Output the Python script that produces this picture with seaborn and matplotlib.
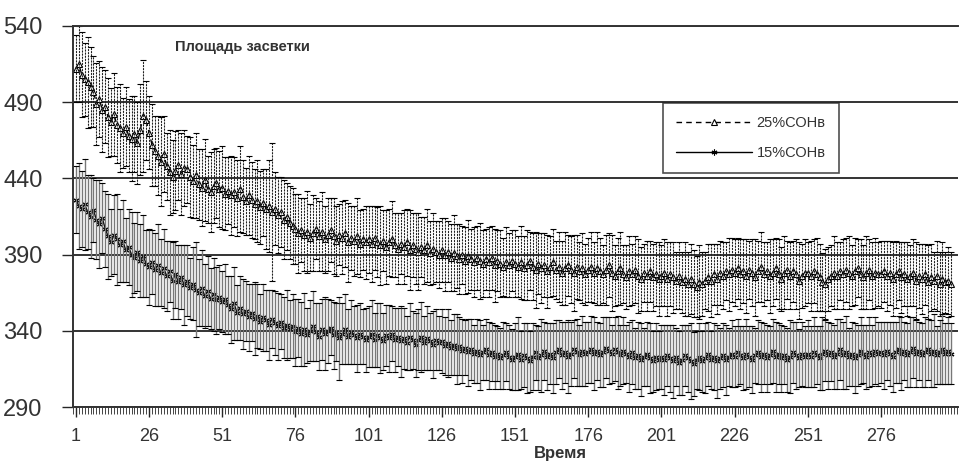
import numpy as np
import pandas as pd
import matplotlib
matplotlib.use("Agg")
import matplotlib.pyplot as plt
import seaborn as sns
from matplotlib.ticker import FixedLocator, MultipleLocator

# ---------------- data ----------------
series_names = ["25%СОНв", "15%СОНв"]
time_labels = [1, 26, 51, 76, 101, 126, 151, 176, 201, 226, 251, 276]
y_ticks = [290, 340, 390, 440, 490, 540]

mean_25 = [
    512, 515, 508, 505, 503, 500, 497, 489, 492, 485, 487, 480, 477, 482, 475, 473, 470, 474, 468, 466, 469, 463, 472, 481, 478,
    470, 462, 458, 455, 451, 456, 448, 444, 441, 445, 449, 443, 447, 446, 441, 438, 442, 436, 434, 439, 433, 431, 435, 437, 433,
    434, 430, 432, 429, 431, 427, 433, 428, 425, 429, 426, 423, 425, 421, 424, 420, 422, 418, 420, 416, 418, 413, 415, 411, 409,
    407, 404, 406, 403, 405, 401, 404, 407, 402, 405, 400, 403, 406, 402, 399, 403, 401, 404, 398, 401, 399, 402, 397, 400, 398,
    400, 397, 401, 398, 396, 399, 395, 398, 400, 396, 394, 397, 395, 398, 393, 396, 394, 392, 395, 393, 396, 391, 394, 392, 390,
    393, 390, 392, 388, 391, 389, 387, 390, 386, 389, 387, 385, 388, 386, 384, 387, 385, 388, 383, 386, 384, 382, 385, 383, 386,
    384, 382, 385, 381, 383, 386, 382, 380, 384, 381, 383, 379, 382, 385, 380, 382, 378, 381, 383, 380, 378, 382, 379, 381, 377,
    380, 382, 378, 381, 379, 377, 380, 383, 378, 376, 379, 381, 377, 375, 379, 377, 380, 376, 374, 378, 376, 379, 375, 377, 374,
    376, 378, 374, 377, 375, 373, 376, 372, 374, 371, 374, 371, 369, 372, 371, 373, 375, 373, 377, 374, 378, 376, 379, 377, 380,
    378, 381, 377, 379, 376, 380, 378, 375, 379, 382, 377, 379, 376, 378, 381, 377, 374, 378, 380, 376, 379, 377, 373, 376, 378,
    378, 376, 379, 377, 375, 372, 371, 374, 376, 378, 376, 379, 377, 380, 378, 376, 379, 381, 377, 375, 378, 380, 376, 378, 377,
    377, 379, 376, 378, 374, 377, 379, 375, 377, 374, 376, 378, 373, 376, 374, 377, 372, 375, 373, 376, 371, 374, 372, 373, 371,
]
err_25 = [
    22, 25, 28, 24, 30, 26, 23, 27, 25, 28, 24, 26, 22, 27, 25, 29, 23, 26, 24, 28, 25, 27, 30, 37, 26,
    24, 27, 23, 26, 29, 25, 22, 28, 24, 26, 23, 27, 25, 22, 26, 24, 28, 23, 25, 27, 22, 26, 24, 23, 25,
    27, 24, 22, 26, 23, 25, 28, 24, 22, 26, 25, 23, 27, 24, 22, 26, 30, 45, 24, 25, 23, 26, 22, 24, 25,
    23, 26, 21, 24, 27, 22, 25, 20, 23, 26, 22, 24, 21, 25, 23, 20, 24, 22, 26, 21, 23, 25, 22, 20, 24,
    22, 25, 21, 23, 26, 20, 24, 22, 25, 21, 23, 20, 24, 22, 26, 21, 23, 25, 20, 22, 24, 21, 23, 20, 22,
    21, 24, 20, 22, 25, 21, 23, 19, 22, 24, 20, 23, 21, 25, 22, 20, 23, 21, 24, 20, 22, 19, 23, 21, 20,
    22, 20, 24, 21, 23, 19, 22, 25, 20, 23, 21, 24, 20, 22, 19, 23, 21, 24, 20, 22, 25, 21, 19, 23, 20,
    21, 23, 20, 24, 22, 19, 23, 21, 25, 20, 22, 24, 19, 21, 23, 20, 22, 24, 21, 19, 23, 20, 22, 21, 24,
    20, 22, 24, 21, 23, 19, 22, 20, 24, 21, 23, 22, 20, 24, 21, 19, 22, 24, 20, 23, 21, 22, 19, 24, 21,
    22, 20, 23, 21, 24, 19, 22, 25, 20, 23, 21, 19, 24, 22, 20, 23, 21, 24, 19, 22, 20, 23, 25, 21, 22,
    20, 23, 21, 24, 22, 19, 23, 21, 20, 24, 22, 19, 23, 21, 24, 20, 22, 19, 23, 21, 24, 20, 22, 23, 21,
    22, 20, 23, 21, 24, 22, 19, 23, 21, 24, 20, 22, 25, 21, 23, 20, 24, 22, 19, 23, 21, 24, 20, 22, 21,
]
mean_15 = [
    426, 422, 420, 423, 418, 415, 419, 413, 410, 414, 407, 402, 398, 403, 400, 396, 399, 393, 395, 390, 388, 392, 386, 389, 384,
    382, 385, 380, 383, 378, 381, 376, 379, 373, 377, 372, 375, 370, 373, 368, 371, 367, 365, 368, 363, 366, 361, 364, 360, 362,
    359, 361, 357, 354, 358, 352, 355, 351, 353, 349, 352, 348, 350, 346, 349, 347, 344, 348, 345, 343, 346, 342, 344, 341, 343,
    339, 342, 338, 341, 337, 340, 343, 339, 336, 341, 338, 340, 342, 337, 339, 335, 338, 341, 336, 339, 337, 335, 338, 336, 334,
    336, 338, 334, 337, 335, 333, 337, 335, 338, 334, 336, 333, 335, 332, 336, 334, 331, 334, 336, 332, 335, 333, 331, 334, 332,
    333, 330, 332, 329, 331, 328, 330, 327, 329, 326, 328, 325, 327, 324, 326, 328, 324, 326, 323, 325, 322, 324, 326, 323, 321,
    323, 325, 321, 324, 322, 320, 323, 326, 322, 324, 327, 323, 325, 322, 326, 328, 324, 326, 323, 325, 328, 326, 324, 327, 325,
    326, 328, 325, 327, 324, 326, 329, 327, 325, 328, 326, 324, 327, 325, 323, 326, 322, 324, 321, 323, 325, 322, 320, 323, 321,
    323, 321, 324, 322, 320, 323, 319, 321, 324, 322, 320, 318, 321, 323, 320, 322, 325, 321, 323, 320, 322, 324, 321, 323, 325,
    323, 326, 324, 322, 325, 323, 321, 324, 326, 323, 325, 322, 324, 327, 323, 325, 322, 324, 321, 323, 326, 324, 322, 325, 323,
    325, 323, 326, 324, 322, 325, 327, 324, 326, 323, 325, 328, 324, 326, 323, 325, 322, 324, 327, 325, 323, 326, 324, 327, 325,
    326, 324, 327, 325, 323, 326, 328, 325, 327, 324, 326, 329, 325, 327, 324, 326, 328, 325, 327, 324, 326, 328, 325, 327, 325,
]
err_15 = [
    22, 28, 25, 30, 24, 27, 21, 26, 29, 23, 25, 28, 22, 26, 30, 24, 27, 21, 25, 28, 23, 26, 24, 27, 22,
    25, 21, 24, 27, 22, 26, 23, 20, 25, 22, 24, 21, 26, 23, 20, 24, 31, 22, 25, 21, 23, 20, 24, 22, 21,
    20, 23, 19, 22, 24, 18, 21, 23, 20, 22, 19, 24, 21, 18, 22, 20, 23, 19, 21, 22, 18, 20, 23, 19, 21,
    22, 19, 21, 24, 18, 20, 23, 19, 22, 20, 24, 21, 18, 22, 19, 27, 20, 23, 18, 21, 19, 22, 20, 18, 21,
    20, 22, 18, 21, 23, 19, 20, 22, 18, 21, 19, 23, 20, 18, 22, 19, 21, 20, 23, 18, 21, 19, 22, 20, 18,
    21, 19, 22, 18, 20, 23, 19, 21, 18, 22, 20, 19, 21, 23, 18, 20, 22, 19, 21, 18, 20, 22, 19, 21, 20,
    22, 24, 19, 21, 23, 20, 22, 18, 21, 24, 19, 22, 20, 23, 21, 19, 22, 20, 24, 21, 19, 22, 20, 23, 21,
    20, 22, 24, 19, 21, 23, 20, 22, 19, 21, 24, 20, 22, 19, 23, 21, 20, 22, 24, 19, 21, 23, 20, 22, 19,
    21, 23, 20, 22, 24, 19, 21, 23, 20, 22, 25, 21, 19, 22, 20, 23, 21, 19, 22, 24, 20, 21, 23, 19, 22,
    20, 22, 19, 21, 23, 20, 22, 18, 21, 23, 20, 22, 19, 21, 23, 20, 22, 19, 21, 24, 20, 22, 19, 21, 20,
    22, 20, 23, 19, 21, 24, 20, 22, 19, 21, 23, 20, 22, 24, 19, 21, 23, 20, 22, 19, 21, 23, 20, 22, 21,
    20, 22, 19, 21, 23, 20, 22, 24, 19, 21, 23, 20, 22, 19, 21, 23, 20, 22, 24, 19, 21, 23, 20, 22, 20,
]

# ---------------- long-form table: low / mean / high per time point ----------------
rows = []
for name, means, errs in [(series_names[0], mean_25, err_25), (series_names[1], mean_15, err_15)]:
    for i, (m, e) in enumerate(zip(means, errs)):
        t = i + 1
        rows.append((t, m - e, name))
        rows.append((t, m, name))
        rows.append((t, m + e, name))
df = pd.DataFrame(rows, columns=["Время", "value", "series"])

# ---------------- style ----------------
sns.set_theme(style="white")
plt.rcParams["font.family"] = ["Liberation Sans", "DejaVu Sans"]

fig = plt.figure(figsize=(9.59, 4.66), dpi=100)
ax = fig.add_axes([73 / 959, 1 - 407 / 466, (958 - 73) / 959, (407 - 26) / 466])

sns.lineplot(
    data=df, x="Время", y="value", hue="series", style="series",
    hue_order=series_names, style_order=series_names,
    palette={series_names[0]: "black", series_names[1]: "black"},
    dashes={series_names[0]: (4, 3), series_names[1]: ""},
    markers={series_names[0]: "^", series_names[1]: "X"},
    estimator="median",
    errorbar=lambda v: (v.min(), v.max()),
    err_style="bars",
    err_kws=dict(capsize=2.5, elinewidth=0.8, capthick=0.8),
    linewidth=1.0, markersize=4.2,
    markeredgecolor="black", markerfacecolor="white", markeredgewidth=0.8,
    ax=ax,
)

ASTERISK = (6, 2, 0)
for ln in ax.lines:
    if ln.get_marker() == "X":
        ln.set_marker(ASTERISK)

# error-bar styling: first series dotted black, second solid grey
err_cols = [c for c in ax.collections if isinstance(c, matplotlib.collections.LineCollection)]
if len(err_cols) >= 2:
    err_cols[0].set_linestyle((0, (1.2, 1.6)))
    err_cols[0].set_color("#202020")
    err_cols[0].set_linewidth(0.8)
    err_cols[1].set_color("#777777")
    err_cols[1].set_linewidth(1.0)

# ---------------- axes ----------------
ax.set_ylim(290, 540)
ax.set_xlim(0, 302.3)
ax.set_yticks(y_ticks)
ax.set_yticklabels([str(v) for v in y_ticks], fontsize=17, color="#333333")
ax.xaxis.set_major_locator(FixedLocator(time_labels))
ax.set_xticklabels([str(v) for v in time_labels], fontsize=13, color="#333333")
ax.xaxis.set_minor_locator(MultipleLocator(1))
ax.tick_params(axis="x", which="major", direction="out", length=7, width=1.0, pad=8, bottom=True)
ax.tick_params(axis="x", which="minor", direction="out", length=5, width=0.7, bottom=True, color="#444444")
ax.tick_params(axis="y", which="major", direction="out", length=8, width=1.0, pad=14, left=True)

ax.grid(axis="y", color="#333333", linewidth=1.4)
ax.grid(axis="x", visible=False)
for s in ["left", "bottom"]:
    ax.spines[s].set_color("#333333")
    ax.spines[s].set_linewidth(1.4)
ax.spines["top"].set_color("#333333")
ax.spines["top"].set_linewidth(1.4)
ax.spines["right"].set_visible(False)

ax.set_ylabel("")
ax.set_xlabel("Время", fontsize=12, fontweight="bold", color="#333333")
ax.xaxis.set_label_coords(0.551, -0.103)

ax.text(0.115, 0.945, "Площадь засветки", transform=ax.transAxes,
        fontsize=10.5, fontweight="bold", color="#333333", va="center", ha="left")

sns.move_legend(
    ax, loc="upper left", bbox_to_anchor=(0.667, 0.798),
    frameon=True, fancybox=False, title=None, fontsize=10.5,
    handlelength=5.2, handletextpad=0.3, borderpad=0.9, labelspacing=1.1,
    borderaxespad=0,
)
leg = ax.get_legend()
leg.get_frame().set_edgecolor("#222222")
leg.get_frame().set_linewidth(1.2)
for t in leg.get_texts():
    t.set_color("#333333")
for h in leg.legend_handles:
    if h.get_marker() == "X":
        h.set_marker(ASTERISK)

fig.savefig("out.png", dpi=100)
